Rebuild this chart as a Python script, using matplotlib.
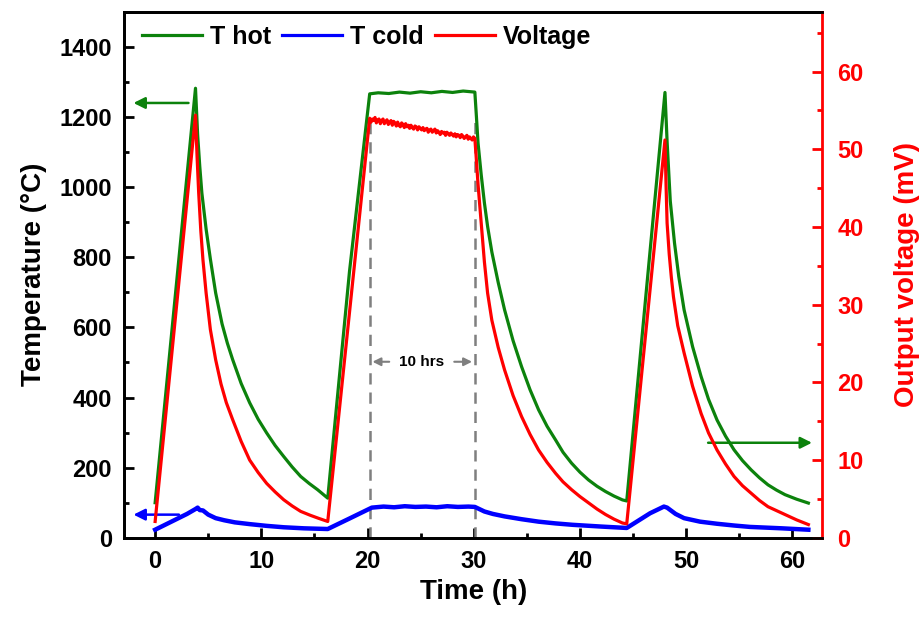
import numpy as np
import matplotlib.pyplot as plt
from matplotlib.ticker import MultipleLocator
from matplotlib.lines import Line2D

plt.rcParams['font.family'] = ['Liberation Sans', 'DejaVu Sans']
plt.rcParams['font.weight'] = 'bold'

# T hot (deg C)
t_hot = [0, 3.8, 4.0, 4.2, 4.4, 4.8, 5.2, 5.7, 6.3, 6.8, 7.3, 8.1, 8.9, 9.7,
         10.5, 11.3, 12.1, 12.9, 13.7, 14.5, 15.3, 16.25, 18.3,
         20.2, 21.0, 22.0, 23.0, 24.0, 25.0, 26.0, 27.0, 28.0, 29.0, 30.1,
         30.25, 30.4, 30.7, 31.0, 31.3, 31.7, 32.3, 32.9, 33.7, 34.5, 35.3,
         36.1, 36.9, 37.7, 38.4, 39.2, 40.0, 40.8, 41.6, 42.4, 43.2, 44.0, 44.4,
         46.2, 48.0, 48.2, 48.5, 48.9, 49.3, 49.8, 50.6, 51.4, 52.1, 52.9, 53.7,
         54.5, 55.3, 56.1, 56.9, 57.7, 58.5, 59.3, 60.4, 61.5]
T_hot = [100, 1282, 1150, 1060, 983, 880, 795, 698, 610, 555, 508, 440, 385, 338,
         299, 263, 232, 202, 175, 155, 137, 113, 760,
         1266, 1269, 1267, 1271, 1268, 1272, 1269, 1273, 1270, 1274, 1271,
         1200, 1126, 1035, 955, 888, 815, 728, 650, 562, 488, 422,
         365, 318, 279, 244, 213, 187, 165, 147, 132, 119, 108, 105,
         690, 1270, 1130, 960, 840, 745, 650, 545, 460, 395, 336, 290,
         251, 220, 194, 171, 151, 136, 123, 110, 99]

# T cold (deg C)
t_cold = [0, 1.0, 2.0, 3.0, 3.8, 4.0, 4.2, 4.5, 5.0, 5.7, 6.5, 7.5, 8.9, 10.5,
          12.1, 14.0, 16.25, 18.3,
          20.4, 21.5, 22.5, 23.5, 24.5, 25.5, 26.5, 27.5, 28.5, 29.5, 30.1,
          31.0, 31.8, 32.9, 34.5, 36.1, 37.7, 39.3, 42.0, 44.4, 46.6, 47.9, 48.2,
          49.0, 49.8, 51.3, 52.9, 54.5, 56.0, 59.0, 61.5]
T_cold = [23, 38, 53, 68, 82, 86, 79, 78, 66, 56, 50, 44, 39, 34,
          30, 27, 25, 55,
          86, 89, 87, 90, 88, 89, 87, 90, 88, 89, 88,
          75, 68, 61, 53, 46, 41, 37, 32, 28, 70, 89, 86,
          68, 56, 46, 40, 35, 31, 27, 23]

# Voltage (mV): heating / cooling parts
t_volt_a = [0, 3.8, 3.95, 4.1, 4.3, 4.5, 4.8, 5.2, 5.7, 6.2, 6.7, 7.3, 8.1, 8.9,
            9.7, 10.5, 11.3, 12.1, 12.9, 13.7, 14.6, 15.4, 16.25]
V_a = [2.1, 54.4, 49.0, 44.4, 39.5, 35.8, 31.5, 26.8, 22.9, 19.8, 17.4, 15.2, 12.4, 10.0,
       8.4, 7.0, 5.9, 4.9, 4.1, 3.4, 2.9, 2.5, 2.1]
# Voltage during the 10 h hold at 1270 C (20.2 h to 30.1 h)
V_hold = [54.0, 53.5, 53.9, 53.7, 54.1, 53.4, 53.8, 53.9, 53.3, 53.7,
          53.9, 53.3, 53.6, 53.8, 53.2, 53.5, 53.7, 53.1, 53.6, 53.4,
          53.0, 53.5, 53.1, 52.9, 53.4, 53.2, 52.8, 53.3, 52.9, 53.1,
          52.7, 53.1, 52.8, 52.6, 53.0, 52.9, 52.5, 52.9, 52.7, 52.5,
          52.8, 52.4, 52.6, 52.7, 52.2, 52.5, 52.6, 52.2, 52.4, 52.6,
          52.1, 52.4, 52.2, 51.9, 52.3, 52.1, 52.2, 51.8, 52.2, 52.0,
          51.8, 52.1, 51.9, 51.7, 52.0, 51.6, 51.9, 51.8, 51.5, 51.9,
          51.7, 51.4, 51.6, 51.8, 51.3, 51.6, 51.4, 51.2, 51.6, 51.4]
t_volt_b = [30.2, 30.4, 30.7, 31.0, 31.3, 31.7, 32.3, 32.9, 33.7, 34.5, 35.3, 36.1,
            36.9, 37.7, 38.4, 39.2, 40.0, 40.8, 41.6, 42.4, 43.2, 44.0, 44.4,
            48.0, 48.1, 48.2, 48.4, 48.6, 48.8, 49.2, 49.8, 50.6, 51.4, 52.1, 52.9,
            53.7, 54.5, 55.3, 56.1, 56.9, 57.7, 58.5, 59.3, 60.4, 61.5]
V_b = [49.5, 45.5, 40.5, 35.5, 31.5, 28.0, 24.5, 21.6, 18.3, 15.6, 13.3, 11.3,
       9.7, 8.3, 7.2, 6.2, 5.3, 4.5, 3.7, 3.0, 2.4, 1.9, 1.8,
       51.2, 45.5, 40.5, 36.5, 33.5, 31.0, 27.3, 23.8, 19.5, 16.0, 13.5, 11.3,
       9.5, 7.9, 6.7, 5.75, 4.8, 4.0, 3.5, 3.0, 2.3, 1.7]
hold_start, hold_end = 20.2, 30.1

green = '#0c820c'
blue = '#0000ff'
red = '#ff0000'
gray = '#7f7f7f'

t_hold = np.linspace(hold_start, hold_end, len(V_hold))
t_volt = list(t_volt_a) + list(t_hold) + list(t_volt_b)
V_out = V_a + V_hold + V_b

fig = plt.figure(figsize=(9.21, 6.21), dpi=100)
ax = fig.add_axes([0.135, 0.134, 0.7577, 0.847])
ax2 = ax.twinx()

ax.plot(t_hot, T_hot, color=green, lw=2.3, zorder=3)
ax.plot(t_cold, T_cold, color=blue, lw=3.2, zorder=4)
ax2.plot(t_volt, V_out, color=red, lw=2.3)

ax.set_xlim(-2.9, 62.8)
ax.set_ylim(0, 1500)
ax2.set_ylim(0, 67.7)

# 10 hrs markers
for xv in [hold_start, hold_end]:
    ax.plot([xv, xv], [0, 1200], color=gray, lw=1.8, ls=(0, (4.5, 3.2)), zorder=2)
ax.annotate('', xy=(hold_start, 502), xytext=(22.3, 502),
            arrowprops=dict(arrowstyle='-|>', color=gray, lw=1.5, mutation_scale=12))
ax.annotate('', xy=(hold_end, 502), xytext=(27.9, 502),
            arrowprops=dict(arrowstyle='-|>', color=gray, lw=1.5, mutation_scale=12))
ax.text(25.1, 502, '10 hrs', fontsize=11, fontweight='bold', ha='center', va='center')

# axis pointer arrows
ax.annotate('', xy=(-2.3, 1240), xytext=(3.4, 1240),
            arrowprops=dict(arrowstyle='-|>', color=green, lw=1.8, mutation_scale=17))
ax.annotate('', xy=(-2.3, 66), xytext=(2.5, 66),
            arrowprops=dict(arrowstyle='-|>', color=blue, lw=1.8, mutation_scale=17))
ax.annotate('', xy=(62.1, 271), xytext=(51.8, 271),
            arrowprops=dict(arrowstyle='-|>', color=green, lw=1.8, mutation_scale=17))

ax.xaxis.set_major_locator(MultipleLocator(10))
ax.xaxis.set_minor_locator(MultipleLocator(5))
ax.yaxis.set_major_locator(MultipleLocator(200))
ax.yaxis.set_minor_locator(MultipleLocator(100))
ax2.yaxis.set_major_locator(MultipleLocator(10))
ax2.yaxis.set_minor_locator(MultipleLocator(5))

ax.tick_params(which='both', direction='in', width=2, top=False, right=False,
               labelsize=17, pad=9)
ax.tick_params(which='major', length=7)
ax.tick_params(which='minor', length=3.8)
ax2.tick_params(which='both', direction='in', width=2, colors=red,
                labelsize=17, pad=11)
ax2.tick_params(which='major', length=7)
ax2.tick_params(which='minor', length=3.8)

for s in ax.spines.values():
    s.set_linewidth(2)
for s in ax2.spines.values():
    s.set_linewidth(2)
ax2.spines['right'].set_color(red)
ax.spines['right'].set_visible(False)

ax.set_xlabel('Time (h)', fontsize=20, fontweight='bold', labelpad=4)
ax.set_ylabel('Temperature (°C)', fontsize=20, fontweight='bold', labelpad=9)
ax2.set_ylabel('Output voltage (mV)', fontsize=20, fontweight='bold', color=red, labelpad=22)

handles = [Line2D([], [], color=green, lw=2.3),
           Line2D([], [], color=blue, lw=2.3),
           Line2D([], [], color=red, lw=2.3)]
ax2.legend(handles, ['T hot', 'T cold', 'Voltage'], loc='center left',
           bbox_to_anchor=(0.026, 0.953), ncol=3, frameon=False, fontsize=18,
           handlelength=2.4, handletextpad=0.3, columnspacing=0.45,
           borderpad=0, borderaxespad=0)

fig.savefig('out.png', dpi=100)
